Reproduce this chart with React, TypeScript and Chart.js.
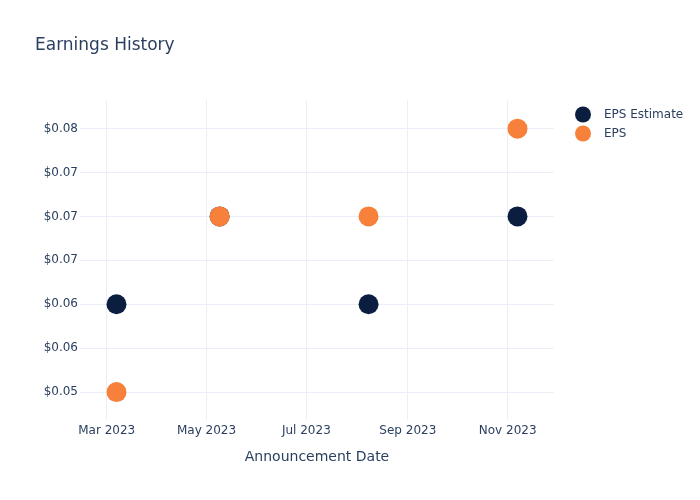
import React, { useEffect, useRef } from 'react';
import { Chart, registerables } from 'chart.js';

Chart.register(...registerables);

const chartTitle = 'Earnings History';
const xAxisTitle = 'Announcement Date';
const seriesNames = ['EPS Estimate', 'EPS'];
const seriesColors = ['#0b1e40', '#f7803a'];
const announceDates = ['2023-03-07', '2023-05-09', '2023-08-08', '2023-11-07'];
const epsEstimate = [0.06, 0.07, 0.06, 0.07];
const epsActual = [0.05, 0.07, 0.07, 0.08];
const xTickDates = ['2023-03-01', '2023-05-01', '2023-07-01', '2023-09-01', '2023-11-01'];
const xTickLabels = ['Mar 2023', 'May 2023', 'Jul 2023', 'Sep 2023', 'Nov 2023'];
const yTickValues = [0.05, 0.055, 0.06, 0.065, 0.07, 0.075, 0.08];
const yTickLabels = ['$0.05', '$0.06', '$0.06', '$0.07', '$0.07', '$0.07', '$0.08'];

const DAY = 86400000;
const FONT = '"DejaVu Sans", Verdana, sans-serif';
const TEXT = '#2a3f5f';
const GRID = '#EBF0F8';

const overlayPlugin = {
  id: 'overlay',
  afterDraw(chart: any) {
    const ctx = chart.ctx;
    ctx.save();
    ctx.fillStyle = TEXT;
    ctx.textBaseline = 'middle';
    ctx.textAlign = 'left';
    ctx.font = `17px ${FONT}`;
    ctx.fillText(chartTitle, 35, 46);
    ctx.font = `12px ${FONT}`;
    seriesNames.forEach((name, i) => {
      const y = 115 + i * 19;
      ctx.beginPath();
      ctx.arc(583, y - 0.5, 8, 0, Math.PI * 2);
      ctx.fillStyle = seriesColors[i];
      ctx.fill();
      ctx.fillStyle = TEXT;
      ctx.fillText(name, 604, y);
    });
    ctx.restore();
  },
};

export default function App() {
  const ref = useRef<HTMLCanvasElement>(null);
  useEffect(() => {
    document.body.style.margin = '0';
    const xs = announceDates.map((d) => Date.parse(d));
    const chart = new Chart(ref.current!, {
      type: 'scatter',
      data: {
        datasets: [
          {
            label: seriesNames[1],
            data: xs.map((x, i) => ({ x, y: epsActual[i] })),
            backgroundColor: seriesColors[1],
            borderWidth: 0,
            pointRadius: 10,
            pointHoverRadius: 10,
          },
          {
            label: seriesNames[0],
            data: xs.map((x, i) => ({ x, y: epsEstimate[i] })),
            backgroundColor: seriesColors[0],
            borderWidth: 0,
            pointRadius: 10,
            pointHoverRadius: 10,
          },
        ],
      },
      options: {
        responsive: false,
        animation: false,
        devicePixelRatio: 1,
        layout: { padding: { left: 0, right: 146, top: 100, bottom: 0 } },
        plugins: { legend: { display: false }, title: { display: false }, tooltip: { enabled: false } },
        scales: {
          x: {
            type: 'linear',
            min: Date.parse(xTickDates[0]) - 16.3 * DAY,
            max: Date.parse(xTickDates[4]) + 28.3 * DAY,
            afterBuildTicks: (scale: any) => {
              scale.ticks = xTickDates.map((d) => ({ value: Date.parse(d) }));
            },
            afterFit: (scale: any) => {
              scale.height = 80;
            },
            grid: { color: GRID, lineWidth: 1, drawTicks: false },
            border: { display: false },
            ticks: {
              autoSkip: false,
              maxRotation: 0,
              padding: 4,
              color: TEXT,
              font: { family: FONT, size: 12 },
              callback: (_v: any, i: number) => xTickLabels[i],
            },
            title: {
              display: true,
              text: xAxisTitle,
              color: TEXT,
              font: { family: FONT, size: 14 },
              padding: { top: 0, bottom: 34 },
            },
          },
          y: {
            type: 'linear',
            min: 0.04682,
            max: 0.08326,
            afterBuildTicks: (scale: any) => {
              scale.ticks = yTickValues.map((v) => ({ value: v }));
            },
            afterFit: (scale: any) => {
              scale.width = 80;
            },
            grid: { color: GRID, lineWidth: 1, drawTicks: false },
            border: { display: false },
            ticks: {
              autoSkip: false,
              padding: 2,
              color: TEXT,
              font: { family: FONT, size: 12 },
              callback: (_v: any, i: number) => yTickLabels[i],
            },
          },
        },
      },
      plugins: [overlayPlugin],
    } as any);
    return () => chart.destroy();
  }, []);
  return <canvas ref={ref} width={700} height={500} style={{ display: 'block' }} />;
}
